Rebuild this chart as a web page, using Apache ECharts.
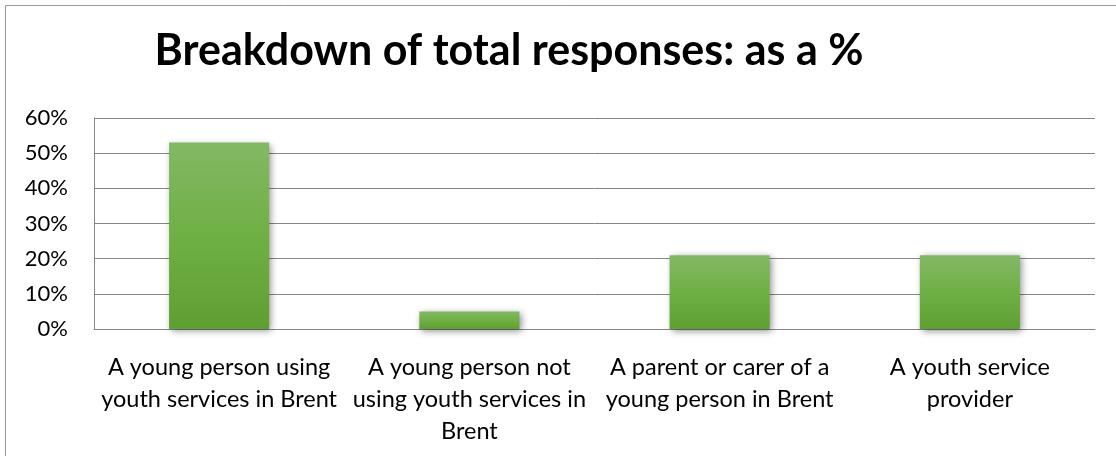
<!DOCTYPE html>
<html><head><meta charset="utf-8">
<script src="https://cdn.jsdelivr.net/npm/echarts@6/dist/echarts.min.js"></script>
<style>html,body{margin:0;padding:0;background:#fff}#c{width:1116px;height:456px}</style>
</head><body><div id="c"></div>
<script>
const categories = [
  "A young person using\nyouth services in Brent",
  "A young person not\nusing youth services in\nBrent",
  "A parent or carer of a\nyoung person in Brent",
  "A youth service\nprovider"
];
const values = [0.53, 0.05, 0.21, 0.21];
const titleText = "Breakdown of total responses: as a %";

const chart = echarts.init(document.getElementById('c'), null, {renderer: 'canvas'});
const font = "Lato, 'Open Sans', sans-serif";
chart.setOption({
  animation: false,
  graphic: [{
    type: 'rect', shape: {x: 5.5, y: 5.5, width: 1120, height: 460},
    style: {fill: 'none', stroke: '#999999', lineWidth: 1}, z: -1
  }],
  title: {
    text: titleText, left: 504, top: 25, textAlign: 'center',
    textStyle: {fontFamily: font, fontWeight: 'bold', fontSize: 43, color: '#000'}
  },
  grid: {left: 94, right: 21, top: 118, bottom: 127},
  xAxis: {
    type: 'category', data: categories,
    axisLine: {lineStyle: {color: '#868686', width: 1}},
    axisTick: {show: false},
    axisLabel: {interval: 0, fontFamily: font, fontSize: 23.5, color: '#000', lineHeight: 32, margin: 22}
  },
  yAxis: {
    type: 'value', min: 0, max: 0.6, interval: 0.1,
    axisLine: {show: true, lineStyle: {color: '#868686', width: 1}},
    axisTick: {show: false},
    splitLine: {lineStyle: {color: '#868686', width: 1}},
    axisLabel: {fontFamily: font, fontSize: 22, color: '#000', margin: 26,
      formatter: v => Math.round(v * 100) + '%'}
  },
  series: [{
    type: 'bar', data: values, barWidth: '40%',
    itemStyle: {
      color: new echarts.graphic.LinearGradient(0, 0, 0, 1, [
        {offset: 0, color: '#83b865'}, {offset: 0.5, color: '#6fb044'}, {offset: 1, color: '#5f9e32'}
      ]),
      shadowColor: 'rgba(0,0,0,0.45)', shadowBlur: 7, shadowOffsetX: 2, shadowOffsetY: 2
    }
  }]
});
</script></body></html>
